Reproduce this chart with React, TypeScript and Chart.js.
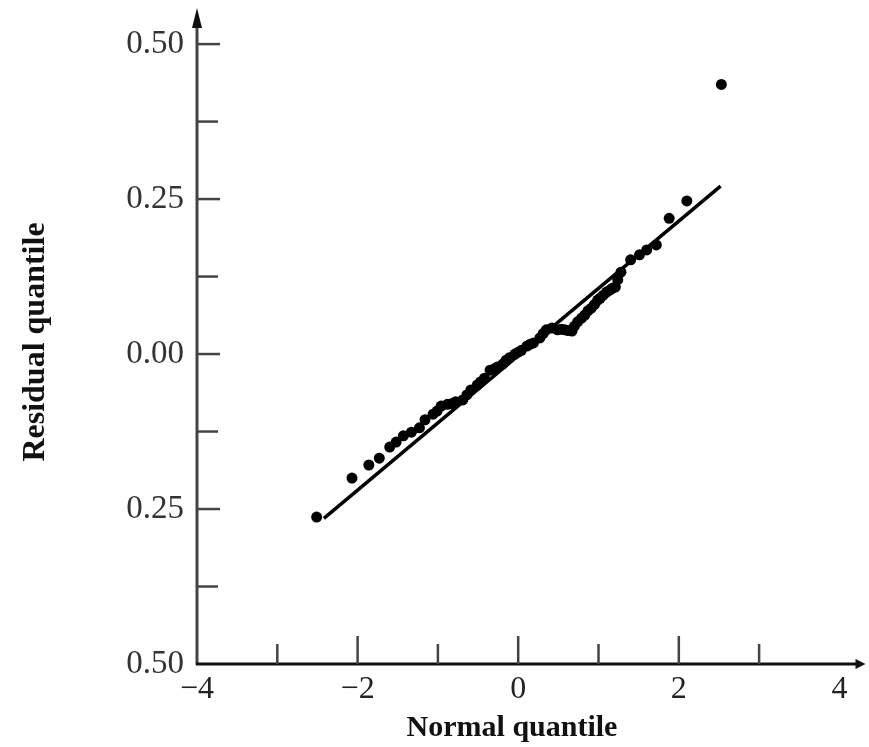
import React, { useEffect, useRef } from "react";
import { Chart, registerables } from "chart.js";

Chart.register(...registerables);

// Normal quantile (x) vs residual quantile (y)
const normalQuantiles = [
  -2.51, -2.07, -1.86, -1.73, -1.6, -1.52, -1.43, -1.33, -1.23, -1.16, -1.06, -1.01,
  -0.96, -0.88, -0.83, -0.78, -0.69, -0.64, -0.59, -0.51, -0.47, -0.42, -0.35, -0.3,
  -0.26, -0.19, -0.15, -0.11, -0.04, 0.0, 0.04, 0.11, 0.15, 0.19, 0.27, 0.31, 0.35,
  0.42, 0.49, 0.54, 0.58, 0.62, 0.67, 0.7, 0.74, 0.79, 0.83, 0.87, 0.91, 0.95, 0.99,
  1.02, 1.06, 1.1, 1.14, 1.17, 1.21, 1.24, 1.28, 1.4, 1.51, 1.6, 1.72, 1.88, 2.1, 2.53,
];
const residualQuantiles = [
  -0.263, -0.2, -0.179, -0.168, -0.15, -0.142, -0.132, -0.126, -0.119, -0.106, -0.097,
  -0.092, -0.084, -0.081, -0.08, -0.077, -0.074, -0.066, -0.058, -0.05, -0.045, -0.039,
  -0.026, -0.024, -0.021, -0.016, -0.01, -0.006, 0.0, 0.003, 0.006, 0.013, 0.016, 0.018,
  0.026, 0.033, 0.039, 0.042, 0.039, 0.04, 0.039, 0.038, 0.037, 0.045, 0.052, 0.058,
  0.063, 0.07, 0.074, 0.08, 0.087, 0.09, 0.095, 0.1, 0.103, 0.106, 0.108, 0.12, 0.132,
  0.152, 0.16, 0.168, 0.176, 0.219, 0.247, 0.435,
];
const fitLineX = [-2.42, 2.52];
const fitLineY = [-0.265, 0.271];

const xTickValues = [-4, -2, 0, 2, 4];
const xTickLabels = ["\u22124", "\u22122", "0", "2", "4"];
const xMajorMarks = [-2, 0, 2];
const xMinorMarks = [-3, -1, 1, 3];
const yTickValues = [-0.5, -0.25, 0, 0.25, 0.5];
const yTickLabels = ["0.50", "0.25", "0.00", "0.25", "0.50"];
const yMajorMarks = [-0.25, 0, 0.25, 0.5];
const yMinorMarks = [-0.375, -0.125, 0.125, 0.375];

const xTitle = "Normal quantile";
const yTitle = "Residual quantile";

const axesPlugin = {
  id: "qqAxes",
  afterDraw(chart: any) {
    const ctx = chart.ctx as CanvasRenderingContext2D;
    const xs = chart.scales.x;
    const ys = chart.scales.y;
    const { left, right, top, bottom } = chart.chartArea;
    ctx.save();
    // y axis
    ctx.strokeStyle = "#444";
    ctx.lineWidth = 3;
    ctx.beginPath();
    ctx.moveTo(left, bottom + 1);
    ctx.lineTo(left, top + 8);
    ctx.stroke();
    ctx.fillStyle = "#111";
    ctx.beginPath();
    ctx.moveTo(left, top - 2);
    ctx.lineTo(left - 5, top + 18);
    ctx.lineTo(left + 5, top + 18);
    ctx.closePath();
    ctx.fill();
    // x axis
    ctx.strokeStyle = "#111";
    ctx.lineWidth = 3;
    ctx.beginPath();
    ctx.moveTo(left - 1, bottom);
    ctx.lineTo(right - 4, bottom);
    ctx.stroke();
    ctx.beginPath();
    ctx.moveTo(right + 2, bottom);
    ctx.lineTo(right - 8, bottom - 5);
    ctx.lineTo(right - 8, bottom + 5);
    ctx.closePath();
    ctx.fill();
    // tick marks (inward)
    ctx.strokeStyle = "#444";
    ctx.lineWidth = 2.5;
    const vx = (v: number, len: number) => {
      const p = xs.getPixelForValue(v);
      ctx.beginPath();
      ctx.moveTo(p, bottom);
      ctx.lineTo(p, bottom - len);
      ctx.stroke();
    };
    const hy = (v: number, len: number) => {
      const p = ys.getPixelForValue(v);
      ctx.beginPath();
      ctx.moveTo(left, p);
      ctx.lineTo(left + len, p);
      ctx.stroke();
    };
    xMajorMarks.forEach((v) => vx(v, 28));
    xMinorMarks.forEach((v) => vx(v, 20));
    yMajorMarks.forEach((v) => hy(v, 23));
    yMinorMarks.forEach((v) => hy(v, 21));
    // titles
    ctx.fillStyle = "#111";
    ctx.font = "bold 30px 'Liberation Serif'";
    ctx.textAlign = "center";
    ctx.textBaseline = "alphabetic";
    ctx.fillText(xTitle, 512, 736);
    ctx.save();
    ctx.translate(44, 342);
    ctx.rotate(-Math.PI / 2);
    ctx.font = "bold 32px 'Liberation Serif'";
    ctx.fillText(yTitle, 0, 0);
    ctx.restore();
    ctx.restore();
  },
};

export default function App() {
  const ref = useRef<HTMLCanvasElement | null>(null);
  useEffect(() => {
    if (!ref.current) return;
    const chart = new Chart(ref.current, {
      type: "scatter",
      data: {
        datasets: [
          {
            type: "scatter",
            data: normalQuantiles.map((x, i) => ({ x, y: residualQuantiles[i] })),
            backgroundColor: "#000",
            borderColor: "#000",
            pointRadius: 5.5,
            pointBorderWidth: 0,
          },
          {
            type: "line",
            data: fitLineX.map((x, i) => ({ x, y: fitLineY[i] })),
            borderColor: "#000",
            borderWidth: 3.5,
            pointRadius: 0,
            fill: false,
          } as any,
        ],
      },
      options: {
        animation: false,
        responsive: true,
        maintainAspectRatio: false,
        layout: { padding: { top: 10, right: 4, left: 0, bottom: 0 } },
        plugins: { legend: { display: false }, tooltip: { enabled: false } },
        scales: {
          x: {
            type: "linear",
            min: -4,
            max: 4.3,
            grid: { display: false, drawTicks: false },
            border: { display: false },
            afterFit: (s: any) => {
              s.height = 83;
              s.paddingLeft = 0;
              s.paddingRight = 0;
            },
            afterBuildTicks: (s: any) => {
              s.ticks = xTickValues.map((value) => ({ value }));
            },
            ticks: {
              padding: 6,
              color: "#222",
              font: { family: "'Liberation Serif'", size: 32 },
              maxRotation: 0,
              autoSkip: false,
              callback: (v: any) => {
                const i = xTickValues.indexOf(Number(v));
                return i >= 0 ? xTickLabels[i] : "";
              },
            },
          },
          y: {
            type: "linear",
            min: -0.5,
            max: 0.555,
            grid: { display: false, drawTicks: false },
            border: { display: false },
            afterFit: (s: any) => {
              s.width = 197;
              s.paddingTop = 0;
              s.paddingBottom = 0;
            },
            afterBuildTicks: (s: any) => {
              s.ticks = yTickValues.map((value) => ({ value }));
            },
            ticks: {
              padding: 13,
              color: "#333",
              font: { family: "'Liberation Serif'", size: 33 },
              autoSkip: false,
              callback: (v: any) => {
                const i = yTickValues.indexOf(Number(v));
                return i >= 0 ? yTickLabels[i] : "";
              },
            },
          },
        },
      },
      plugins: [axesPlugin],
    });
    return () => chart.destroy();
  }, []);
  return (
    <div style={{ position: "fixed", left: 0, top: 0, width: 869, height: 747, background: "#fff" }}>
      <canvas ref={ref} />
    </div>
  );
}
